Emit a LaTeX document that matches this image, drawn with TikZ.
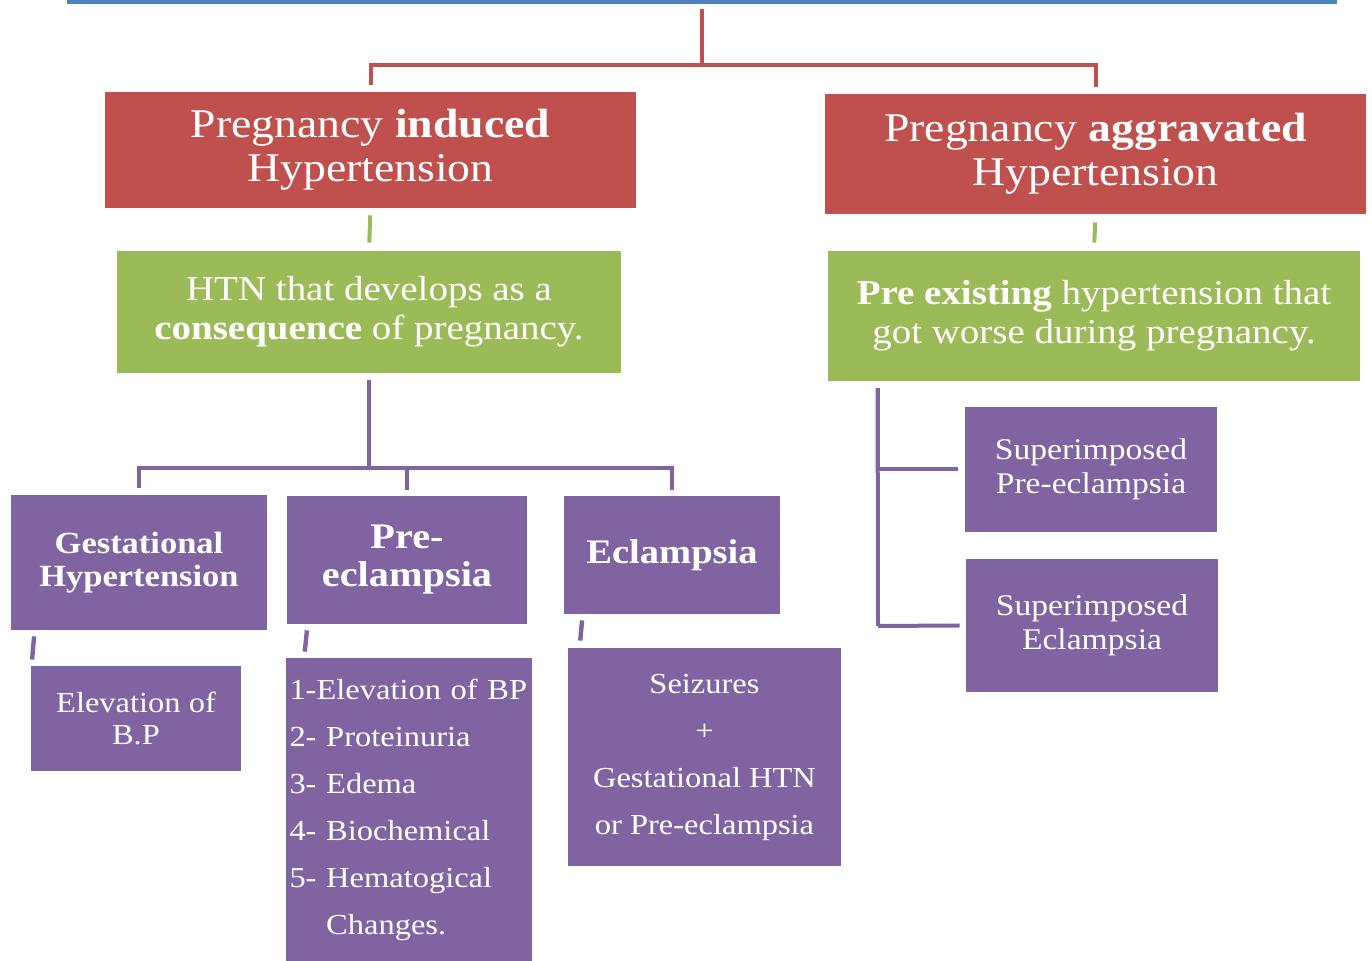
\documentclass[tikz,border=0pt]{standalone}
\usepackage{fontspec}
\setmainfont[FakeStretch=1.12]{Liberation Serif}
\usepackage{xcolor}
\usetikzlibrary{positioning}

\definecolor{hred}{HTML}{C0504D}
\definecolor{hgreen}{HTML}{9BBB59}
\definecolor{hpurple}{HTML}{8064A2}
\definecolor{hblue}{HTML}{4F81BD}

\begin{document}
\begin{tikzpicture}[
    x=0.5pt, y=-0.5pt,
    box/.style={
      inner sep=2pt, align=center,
      text=white, draw=none
    },
    redbox/.style={box, fill=hred, font=\fontsize{20.4}{22}\selectfont},
    greenbox/.style={box, fill=hgreen, font=\fontsize{17.4}{19.5}\selectfont},
    purplebox/.style={box, fill=hpurple},
    redline/.style={draw=hred, line width=2pt},
    greenline/.style={draw=hgreen, line width=2pt},
    purpleline/.style={draw=hpurple, line width=2pt},
    tick/.style={draw=hpurple, line width=2.2pt}
]
\useasboundingbox (0,0) rectangle (1372,961);

% --- Top bar ---
\coordinate (barl) at (67,2);
\coordinate (barr) at (1337,2);
\draw[draw=hblue, line width=2pt] (barl) -- (barr);

% --- Red row ---
\node[redbox, minimum width=265.5pt, minimum height=58pt] (induced) at (370.5,150)
  {Pregnancy \textbf{induced}\\Hypertension};
\node[redbox, minimum width=270.5pt, minimum height=60pt] (aggr) at (1095.5,154)
  {Pregnancy \textbf{aggravated}\\Hypertension};

% --- Green row ---
\node[greenbox, minimum width=252pt, minimum height=61pt] (conseq) at (369,312)
  {HTN that develops as a\\\textbf{consequence} of pregnancy.};
\node[greenbox, minimum width=266pt, minimum height=65pt] (preex) at (1094,316)
  {\textbf{Pre existing} hypertension that\\got worse during pregnancy.};

% --- Purple row ---
\node[purplebox, minimum width=128pt, minimum height=67.5pt,
  font=\bfseries\fontsize{15.4}{16.5}\selectfont] (gest) at (139,562.5)
  {Gestational\\Hypertension};
\node[purplebox, minimum width=120pt, minimum height=64pt,
  font=\bfseries\fontsize{18}{19}\selectfont] (pre) at (407,560)
  {Pre-\\eclampsia};
\node[purplebox, minimum width=108pt, minimum height=59pt,
  font=\bfseries\fontsize{17.2}{19}\selectfont] (ecl) at (672,555)
  {Eclampsia};

% --- Details ---
\node[purplebox, minimum width=105pt, minimum height=52.5pt,
  font=\fontsize{14.5}{16}\selectfont] (elev) at (136,718.5)
  {Elevation of\\B.P};
\node[purplebox, minimum width=122.5pt, minimum height=151.5pt, text width=119pt,
  align=left, font=\fontsize{14.5}{23.5}\selectfont] (signs) at (408.5,809.5)
  {1-Elevation of BP\\2- Proteinuria\\3- Edema\\4- Biochemical\\5- Hematogical\\
   \phantom{5- }Changes.};
\node[purplebox, minimum width=136.5pt, minimum height=109pt,
  font=\fontsize{14.5}{23.5}\selectfont] (seiz) at (704.5,757)
  {Seizures\\+\\Gestational HTN\\or Pre-eclampsia};
\node[purplebox, minimum width=126pt, minimum height=62.5pt,
  font=\fontsize{15}{17}\selectfont] (supre) at (1091,469.5)
  {Superimposed\\Pre-eclampsia};
\node[purplebox, minimum width=126pt, minimum height=66.5pt,
  font=\fontsize{15}{17}\selectfont] (supecl) at (1092,625.5)
  {Superimposed\\Eclampsia};

% --- Red connectors ---
\coordinate (rtop) at (702,9);
\draw[redline] (rtop) -- (702,65) coordinate (rjoin);
\draw[redline] (rjoin) -| ([yshift=3.5pt]induced.north);
\draw[redline] (rjoin) -| ([yshift=3.5pt]aggr.north);

% --- Green stubs ---
\draw[greenline, shorten <=3.5pt, shorten >=4pt] (induced.south) -- (conseq.north);
\draw[greenline, shorten <=4pt, shorten >=4pt] (aggr.south) -- (preex.north);

% --- Purple tree (left) ---
\draw[purpleline] ([yshift=-3.5pt]conseq.south) -- (369,468) coordinate (pjoin);
\draw[purpleline] (pjoin) -| ([yshift=3.5pt]gest.north);
\draw[purpleline] (pjoin) -| ([yshift=3pt]pre.north);
\draw[purpleline] (pjoin) -| ([yshift=3pt]ecl.north);

% --- Purple tree (right) ---
\draw[purpleline] ([xshift=25pt,yshift=-3.5pt]preex.south west) -- (878,626) coordinate (sjoin);
\draw[purpleline] ([xshift=25pt,yshift=-3.5pt]preex.south west) |- ([xshift=-3.5pt]supre.west);
\draw[purpleline] (sjoin) -- ([xshift=-3pt]supecl.west);

% --- Ticks ---
\draw[tick, shorten <=3pt, shorten >=3pt] ([xshift=12pt]gest.south west) -- ([xshift=0.5pt]elev.north west);
\draw[tick, shorten <=3pt, shorten >=3pt] ([xshift=10.5pt]pre.south west) -- ([xshift=9.5pt]signs.north west);
\draw[tick, shorten <=3pt, shorten >=3.5pt] ([xshift=9.5pt]ecl.south west) -- ([xshift=6pt]seiz.north west);

\end{tikzpicture}
\end{document}
